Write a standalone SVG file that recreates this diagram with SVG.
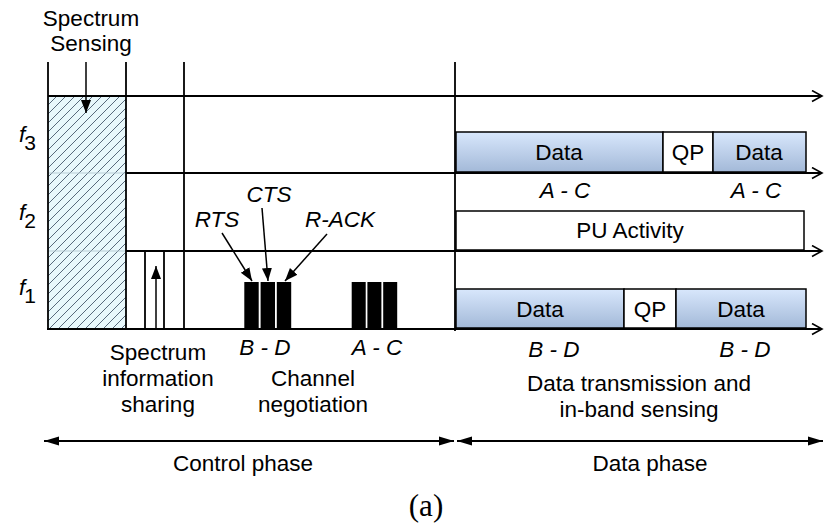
<svg xmlns="http://www.w3.org/2000/svg" width="824" height="530" viewBox="0 0 824 530">
<style>
.t{font-family:"Liberation Sans",Arial,Helvetica,sans-serif;font-size:22.5px;fill:#000;text-anchor:middle}
.i{font-style:italic}
.f{font-family:"Liberation Sans",Arial,Helvetica,sans-serif;font-size:22.5px;fill:#000;font-style:italic}
.sub{font-style:normal;font-size:21px}
.ln{stroke:#000;stroke-width:1.8;fill:none}
.ax{stroke:#000;stroke-width:1.8;fill:none;marker-end:url(#chev)}
.ar{stroke:#000;stroke-width:1.5;fill:none;marker-end:url(#tri)}
.box{fill:url(#blue);stroke:#000;stroke-width:1.5}
.wbox{fill:#fff;stroke:#000;stroke-width:1.5}
.blk{fill:#000}
</style>
<defs>
<linearGradient id="blue" x1="0" y1="0" x2="0" y2="1">
<stop offset="0" stop-color="#d8e7fc"/>
<stop offset="1" stop-color="#a3b9d8"/>
</linearGradient>
<pattern id="hatch" patternUnits="userSpaceOnUse" width="9" height="9">
<rect width="9" height="9" fill="#e8f8fc"/>
<path d="M-1,10 L10,-1 M-1,1 L1,-1 M8,10 L10,8" stroke="#3e5064" stroke-width="0.85"/>
</pattern>
<marker id="chev" markerWidth="13" markerHeight="13" refX="11" refY="6.5" orient="auto" markerUnits="userSpaceOnUse">
<path d="M1,1 L11,6.5 L1,12" fill="none" stroke="#000" stroke-width="1.6"/>
</marker>
<marker id="tri" markerWidth="14" markerHeight="12" refX="13" refY="6" orient="auto" markerUnits="userSpaceOnUse">
<path d="M0,1 L13,6 L0,11 Z" fill="#000"/>
</marker>
<marker id="tri2" markerWidth="16" markerHeight="12" refX="15" refY="6" orient="auto-start-reverse" markerUnits="userSpaceOnUse">
<path d="M0,1.5 L15,6 L0,10.5 Z" fill="#000"/>
</marker>
</defs>

<g id="spectrum-sensing">
<rect x="48" y="96" width="78" height="233" fill="url(#hatch)"/>
<line x1="48" y1="173" x2="126" y2="173" stroke="#b8cdd6" stroke-width="1"/>
<line x1="48" y1="251" x2="126" y2="251" stroke="#b8cdd6" stroke-width="1"/>
<text class="t" x="91" y="26">Spectrum</text>
<text class="t" x="91" y="51">Sensing</text>
</g>

<g id="axes">
<line class="ln" x1="48" y1="62" x2="48" y2="330"/>
<line class="ln" x1="126" y1="62" x2="126" y2="330"/>
<line class="ln" x1="184" y1="62" x2="184" y2="330"/>
<line class="ln" x1="455" y1="62" x2="455" y2="331"/>
<line class="ax" x1="48" y1="96" x2="822" y2="96"/>
<line class="ax" x1="126" y1="173" x2="822" y2="173"/>
<line class="ax" x1="126" y1="251" x2="822" y2="251"/>
<line class="ax" x1="47" y1="329" x2="822" y2="329"/>
</g>

<g id="freq-labels">
<text class="f" x="19" y="142">f<tspan class="sub" dy="8" dx="-1">3</tspan></text>
<text class="f" x="19" y="220">f<tspan class="sub" dy="8" dx="-1">2</tspan></text>
<text class="f" x="19" y="295">f<tspan class="sub" dy="8" dx="-1">1</tspan></text>
</g>

<g id="info-sharing">
<line class="ln" x1="145" y1="251" x2="145" y2="329"/>
<line class="ln" x1="164" y1="251" x2="164" y2="329"/>
<text class="t" x="158" y="360">Spectrum</text>
<text class="t" x="158" y="386">information</text>
<text class="t" x="158" y="412">sharing</text>
</g>

<g id="negotiation-bd">
<rect class="blk" x="244.3" y="282" width="14.4" height="46"/>
<rect class="blk" x="260.6" y="282" width="14.4" height="46"/>
<rect class="blk" x="276.8" y="282" width="14.4" height="46"/>
<text class="t i" x="217" y="227">RTS</text>
<text class="t i" x="269" y="202">CTS</text>
<text class="t i" x="340" y="227">R-ACK</text>
<text class="t i" x="265" y="355">B - D</text>
</g>

<g id="negotiation-ac">
<rect class="blk" x="351.7" y="282" width="14" height="46"/>
<rect class="blk" x="367.4" y="282" width="14" height="46"/>
<rect class="blk" x="383.2" y="282" width="14" height="46"/>
<text class="t i" x="377" y="355">A - C</text>
<text class="t" x="313" y="386">Channel</text>
<text class="t" x="313" y="412">negotiation</text>
</g>

<g id="f3-data">
<rect class="box" x="456" y="132" width="207" height="40"/>
<rect class="wbox" x="663" y="132" width="50" height="40"/>
<rect class="box" x="713" y="132" width="93" height="40"/>
<text class="t" x="559" y="160">Data</text>
<text class="t" x="688" y="160">QP</text>
<text class="t" x="759" y="160">Data</text>
<text class="t i" x="565" y="198">A - C</text>
<text class="t i" x="756" y="198">A - C</text>
</g>

<g id="f2-pu">
<rect class="wbox" x="456" y="211" width="348" height="39"/>
<text class="t" x="630" y="238">PU Activity</text>
</g>

<g id="f1-data">
<rect class="box" x="456" y="289" width="168" height="39"/>
<rect class="wbox" x="624" y="289" width="52" height="39"/>
<rect class="box" x="676" y="289" width="130" height="39"/>
<text class="t" x="540" y="317">Data</text>
<text class="t" x="650" y="317">QP</text>
<text class="t" x="741" y="317">Data</text>
<text class="t i" x="554" y="357">B - D</text>
<text class="t i" x="745" y="357">B - D</text>
<text class="t" x="639" y="391">Data transmission and</text>
<text class="t" x="639" y="417">in-band sensing</text>
</g>

<g id="phases">
<text class="t" x="243" y="471">Control phase</text>
<text class="t" x="650" y="471">Data phase</text>
<text x="426" y="516" style="font-family:'Liberation Serif','Times New Roman',serif;font-size:31px;text-anchor:middle">(a)</text>
</g>

<g id="connectors">
<line class="ar" x1="86" y1="62" x2="86" y2="113"/>
<line class="ar" x1="156" y1="329" x2="156" y2="266"/>
<line class="ar" x1="222" y1="233" x2="252" y2="281"/>
<line class="ar" x1="262" y1="208" x2="268" y2="281"/>
<line class="ar" x1="327" y1="234" x2="285" y2="281"/>
<line x1="44" y1="441" x2="454" y2="441" stroke="#000" stroke-width="1.8" marker-start="url(#tri2)" marker-end="url(#tri2)"/>
<line x1="457" y1="441" x2="823" y2="441" stroke="#000" stroke-width="1.8" marker-start="url(#tri2)" marker-end="url(#tri2)"/>
</g>
</svg>
